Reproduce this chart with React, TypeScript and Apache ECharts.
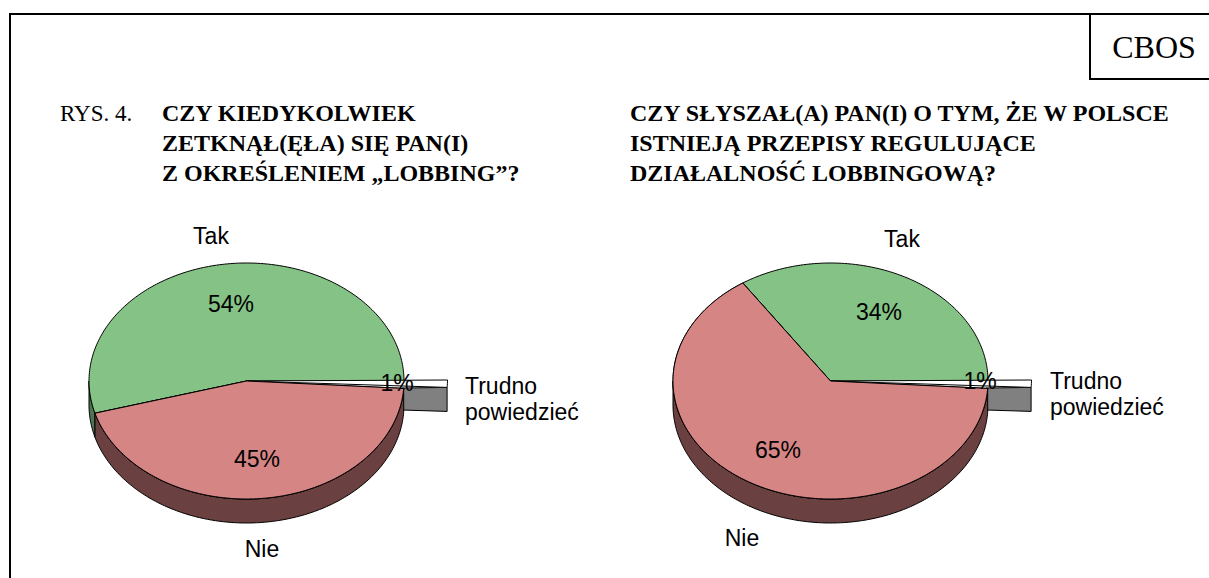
import React, { useEffect, useRef } from "react";
import * as echarts from "echarts";

const sliceNames = ["Tak", "Nie", "Trudno powiedzieć"];
const leftValues = [54.4, 44.6, 1];
const rightValues = [34.4, 64.6, 1];
const valueSuffix = "%";

const titleLeft = ["CZY KIEDYKOLWIEK", "ZETKNĄŁ(ĘŁA) SIĘ PAN(I)", "Z OKREŚLENIEM „LOBBING”?"];
const titleRight = ["CZY SŁYSZAŁ(A) PAN(I) O TYM, ŻE W POLSCE", "ISTNIEJĄ PRZEPISY REGULUJĄCE", "DZIAŁALNOŚĆ LOBBINGOWĄ?"];

const TOP = ["#85C285", "#D68585", "#FFFFFF"];
const SIDE = ["#4F7550", "#6B4040", "#808080"];
const RX = 157.5, RY = 118, DEPTH = 24, WEDGE_RX = 201;

const pies = [
  {
    values: leftValues, cx: 246.5, cy: 381,
    names: [[211, 236], [262, 549], [465, 386]],
    pct: [[231, 304], [257, 459], [397, 383]],
  },
  {
    values: rightValues, cx: 830.5, cy: 381,
    names: [[902, 239], [742, 538], [1050, 381]],
    pct: [[879, 312], [778, 450], [980, 381]],
  },
];

function arc(cx: number, cy: number, rx: number, ry: number, a0: number, a1: number) {
  const pts: number[][] = [];
  const n = Math.max(2, Math.ceil(Math.abs(a1 - a0)));
  for (let i = 0; i <= n; i++) {
    const t = ((a0 + ((a1 - a0) * i) / n) * Math.PI) / 180;
    pts.push([cx + rx * Math.cos(t), cy - ry * Math.sin(t)]);
  }
  return pts;
}

const LABEL_FONT = '23px "Liberation Sans", Arial, sans-serif';

function renderSlice(params: any, api: any) {
  const pieIdx = api.value(0) as number;
  const sliceIdx = api.value(1) as number;
  const pie = pies[pieIdx];
  const before = pie.values.slice(0, sliceIdx).reduce((a, b) => a + b, 0);
  const a0 = (before / 100) * 360;
  const a1 = ((before + (api.value(2) as number)) / 100) * 360;
  const wedge = sliceIdx === 2;
  const rx = wedge ? WEDGE_RX : RX;
  const cy = wedge ? pie.cy - 1 : pie.cy;
  const line = { stroke: "#000", lineWidth: 1, lineJoin: "round" };
  const children: any[] = [];

  // side wall: only the part of the rim facing the viewer
  if (wedge) {
    const [[x, y]] = arc(pie.cx, cy, rx, RY, a0, a0 + 0.001);
    children.push({
      type: "polygon", z2: 1,
      shape: { points: [[pie.cx + RX - 2, pie.cy + 7], [x, y], [x, y + DEPTH], [pie.cx + RX - 2, pie.cy + 5 + DEPTH]] },
      style: { fill: SIDE[2], ...line },
    });
  } else {
    const s0 = Math.max(a0, 180), s1 = Math.min(a1, 360);
    if (s1 > s0) {
      const upper = arc(pie.cx, pie.cy, RX, RY, s0, s1);
      const lower = arc(pie.cx, pie.cy + DEPTH, RX, RY, s1, s0);
      children.push({
        type: "polygon", z2: 2,
        shape: { points: [...upper, ...lower] },
        style: { fill: SIDE[sliceIdx], ...line },
      });
    }
  }

  // top face
  children.push({
    type: "polygon", z2: wedge ? 4 : 3,
    shape: { points: [[pie.cx, pie.cy], ...arc(pie.cx, cy, rx, RY, a0, a1)] },
    style: { fill: TOP[sliceIdx], ...line },
  });
  if (sliceIdx === 1) {
    // the red face stays in front of the wedge's lower edge
    children.push({
      type: "polygon", z2: 5,
      shape: { points: [[pie.cx, pie.cy], ...arc(pie.cx, pie.cy, RX, RY, a0, a1)] },
      style: { fill: TOP[1], ...line },
    });
  }

  const value = Math.round(api.value(2) as number);
  children.push({
    type: "text", z2: 10,
    style: {
      x: pie.pct[sliceIdx][0], y: pie.pct[sliceIdx][1],
      text: value + valueSuffix,
      font: LABEL_FONT, fill: "#000",
      align: "center", verticalAlign: "middle",
    },
  });
  sliceNames[sliceIdx].split(" ").forEach((t, i) => {
    children.push({
      type: "text", z2: 10,
      style: {
        x: pie.names[sliceIdx][0], y: pie.names[sliceIdx][1] + i * 26,
        text: t, font: LABEL_FONT, fill: "#000",
        align: wedge ? "left" : "center", verticalAlign: "middle",
      },
    });
  });
  return { type: "group", children };
}

const TITLE_FONT = 'bold 24px "Liberation Serif", "Times New Roman", serif';
const titleLines = (lines: string[], x: number) =>
  lines.map((t, i) => ({
    type: "text", x, y: 113 + i * 30,
    style: { text: t, font: TITLE_FONT, fill: "#000", verticalAlign: "middle" },
  }));

export default function App() {
  const ref = useRef<HTMLDivElement>(null);
  useEffect(() => {
    const chart = echarts.init(ref.current!, null, { renderer: "svg" });
    const stroke = { stroke: "#000", lineWidth: 2 };
    chart.setOption({
      animation: false,
      backgroundColor: "#fff",
      graphic: [
        { type: "line", shape: { x1: 10, y1: 14, x2: 1209, y2: 14 }, style: stroke },
        { type: "line", shape: { x1: 10, y1: 13, x2: 10, y2: 578 }, style: stroke },
        { type: "line", shape: { x1: 1090, y1: 14, x2: 1090, y2: 79 }, style: stroke },
        { type: "line", shape: { x1: 1089, y1: 79, x2: 1209, y2: 79 }, style: stroke },
        {
          type: "text", x: 1154, y: 47,
          style: { text: "CBOS", font: '32px "Liberation Serif", serif', fill: "#000", align: "center", verticalAlign: "middle" },
        },
        {
          type: "text", x: 60, y: 113,
          style: { text: "RYS. 4.", font: '23px "Liberation Serif", serif', fill: "#000", verticalAlign: "middle" },
        },
        ...titleLines(titleLeft, 162),
        ...titleLines(titleRight, 630),
      ],
      series: pies.map((p, pi) => ({
        type: "custom",
        coordinateSystem: "none",
        renderItem: renderSlice,
        silent: true,
        data: p.values.map((v, si) => [pi, si, v]),
      })),
    });
    return () => chart.dispose();
  }, []);
  return <div ref={ref} style={{ width: 1209, height: 578, position: "absolute", left: 0, top: 0 }} />;
}
